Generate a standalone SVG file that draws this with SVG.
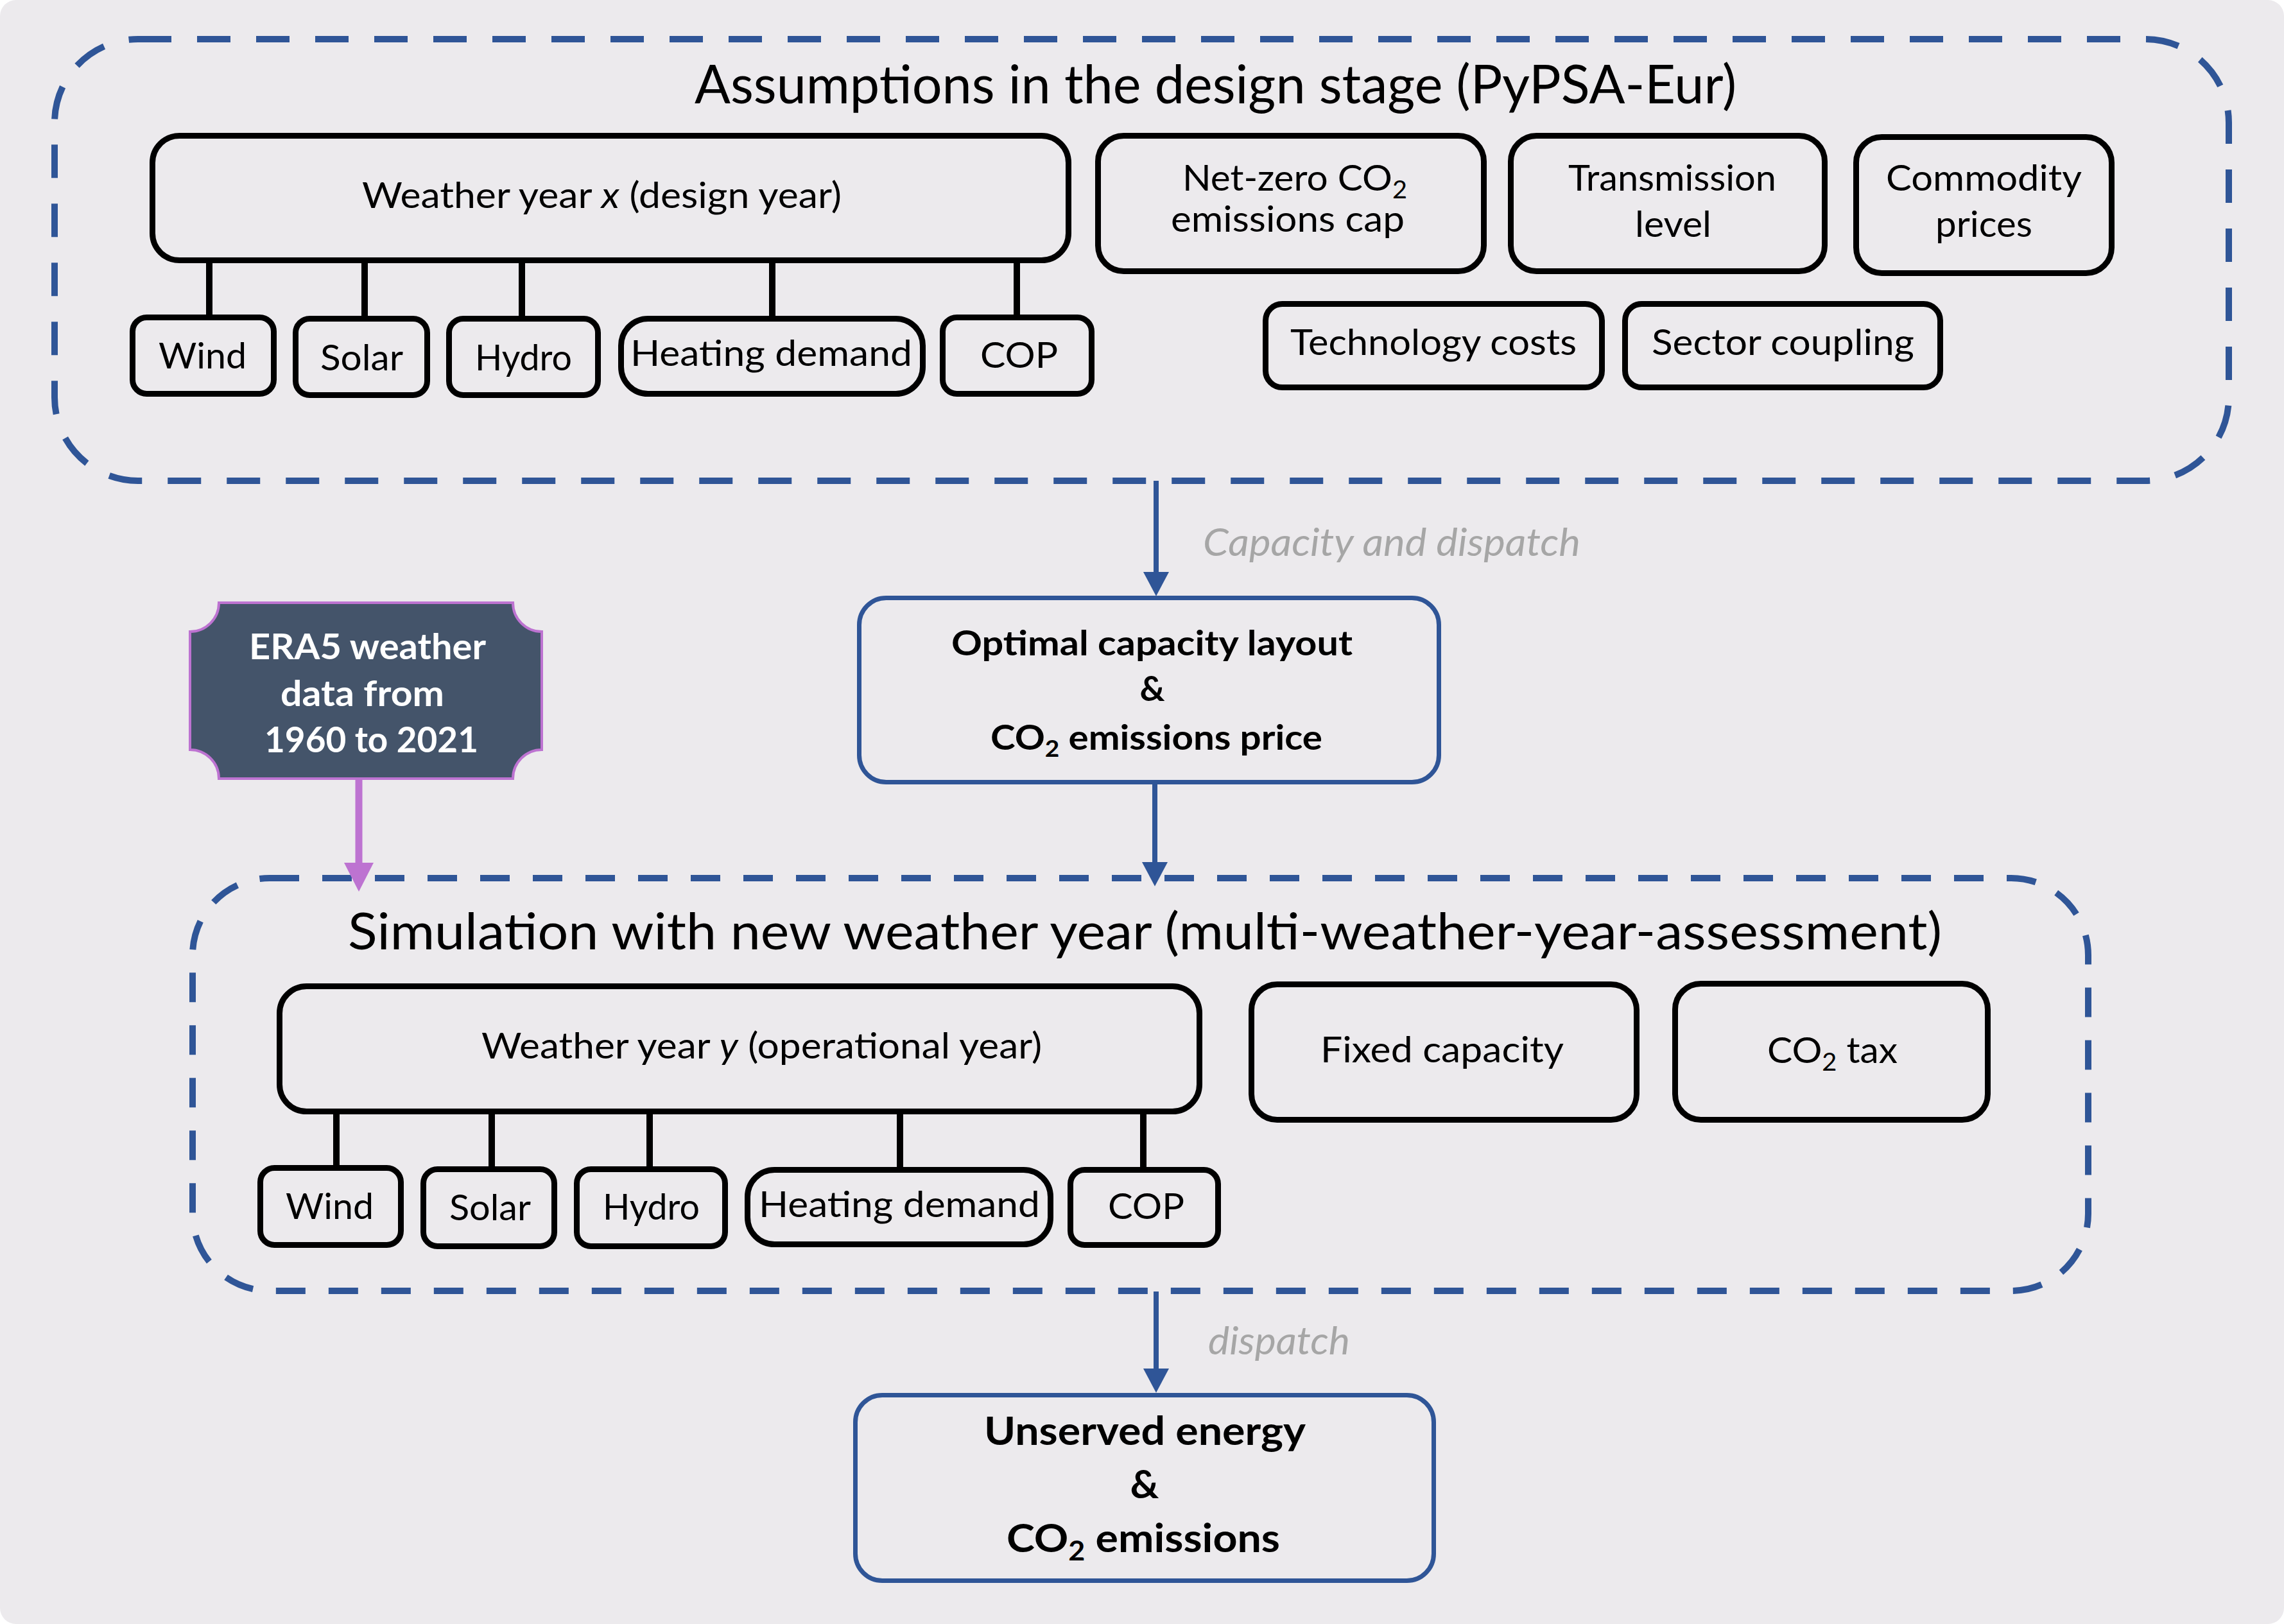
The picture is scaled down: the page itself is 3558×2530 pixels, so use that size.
<svg xmlns="http://www.w3.org/2000/svg" width="3558" height="2530" viewBox="0 0 3558 2530">
<defs>
<style>
.bg{fill:#ECEAED}
.node{fill:#ECEAED;stroke:#000;stroke-width:9}
.bnode{fill:#ECEAED;stroke:#2F5597;stroke-width:7}
.dash1{fill:none;stroke:#2F5597;stroke-width:10;stroke-dasharray:52 40}
.dash2{fill:none;stroke:#2F5597;stroke-width:10;stroke-dasharray:46 36}
.conn{stroke:#000;stroke-width:10;fill:none}
.barrow{stroke:#2F5597;stroke-width:8;fill:none}
.parrow{stroke:#BD73D1;stroke-width:11;fill:none}
text{font-family:"Lato","Liberation Sans",sans-serif;fill:#000}
.t{font-size:56px}
.title{font-size:84px}
.lbl{font-size:60px;font-style:italic;fill:#A6A6A6}
.b{font-weight:bold;font-size:54px}
.b2{font-weight:bold;font-size:62px}
.w{font-weight:bold;font-size:56px;fill:#FFFFFF}
</style>
<marker id="bhead" markerUnits="userSpaceOnUse" markerWidth="40" markerHeight="40" viewBox="0 0 34 36" refX="0" refY="18" orient="auto">
<path d="M0,0 L34,18 L0,36 Z" fill="#2F5597"/>
</marker>
<marker id="phead" markerUnits="userSpaceOnUse" markerWidth="46" markerHeight="46" viewBox="0 0 43 44" refX="0" refY="22" orient="auto">
<path d="M0,0 L43,22 L0,44 Z" fill="#BD73D1"/>
</marker>
</defs>
<rect width="3558" height="2530" fill="#FFFFFF"/>
<rect class="bg" width="3558" height="2530" rx="25"/>

<g id="design-stage">
<rect class="dash1" x="85" y="61" width="3387" height="688" rx="130"/>
<text class="title" x="1082" y="161" textLength="1623" lengthAdjust="spacingAndGlyphs">Assumptions in the design stage (PyPSA-Eur)</text>
</g>

<g id="simulation-stage">
<rect class="dash2" x="300" y="1368" width="2953" height="643" rx="120"/>
<text class="title" x="542" y="1479" font-size="80" style="font-size:80px" textLength="2483" lengthAdjust="spacingAndGlyphs">Simulation with new weather year (multi-weather-year-assessment)</text>
</g>

<g id="connectors">
<line class="conn" x1="326" y1="406" x2="326" y2="496"/>
<line class="conn" x1="568" y1="406" x2="568" y2="498"/>
<line class="conn" x1="813" y1="406" x2="813" y2="498"/>
<line class="conn" x1="1203" y1="406" x2="1203" y2="498"/>
<line class="conn" x1="1584" y1="406" x2="1584" y2="496"/>
<line class="conn" x1="524" y1="1732" x2="524" y2="1821"/>
<line class="conn" x1="766" y1="1732" x2="766" y2="1823"/>
<line class="conn" x1="1012" y1="1732" x2="1012" y2="1823"/>
<line class="conn" x1="1402" y1="1732" x2="1402" y2="1824"/>
<line class="conn" x1="1781" y1="1732" x2="1781" y2="1824"/>
<line class="barrow" x1="1801" y1="749" x2="1801" y2="891" marker-end="url(#bhead)"/>
<line class="barrow" x1="1799" y1="1222" x2="1799" y2="1343" marker-end="url(#bhead)"/>
<line class="barrow" x1="1801" y1="2012" x2="1801" y2="2132" marker-end="url(#bhead)"/>
<line class="parrow" x1="559" y1="1213" x2="559" y2="1344" marker-end="url(#phead)"/>
<text class="lbl" x="1874" y="866" textLength="588" lengthAdjust="spacingAndGlyphs">Capacity and dispatch</text>
<text class="lbl" x="1882" y="2110" textLength="221" lengthAdjust="spacingAndGlyphs">dispatch</text>
</g>

<g id="weather-x">
<rect class="node" x="237.5" y="211.5" width="1427" height="194" rx="42"/>
<text class="t" x="564" y="324" textLength="747" lengthAdjust="spacingAndGlyphs">Weather year <tspan font-style="italic">x</tspan> (design year)</text>
</g>
<g id="wind-x"><rect class="node" x="206.5" y="494.5" width="220" height="119" rx="22"/><text class="t" x="247" y="574" textLength="137" lengthAdjust="spacingAndGlyphs">Wind</text></g>
<g id="solar-x"><rect class="node" x="460.5" y="496.5" width="205" height="119" rx="22"/><text class="t" x="499" y="577" textLength="129" lengthAdjust="spacingAndGlyphs">Solar</text></g>
<g id="hydro-x"><rect class="node" x="699.5" y="496.5" width="232" height="119" rx="22"/><text class="t" x="740" y="577" textLength="151" lengthAdjust="spacingAndGlyphs">Hydro</text></g>
<g id="heating-x"><rect class="node" x="967.5" y="496.5" width="470" height="117" rx="42"/><text class="t" x="982" y="570" textLength="439" lengthAdjust="spacingAndGlyphs">Heating demand</text></g>
<g id="cop-x"><rect class="node" x="1468.5" y="494.5" width="232" height="119" rx="22"/><text class="t" x="1527" y="573" textLength="121" lengthAdjust="spacingAndGlyphs">COP</text></g>

<g id="netzero"><rect class="node" x="1710.5" y="211.5" width="601" height="211" rx="40"/>
<text class="t" x="1842" y="297" textLength="350" lengthAdjust="spacingAndGlyphs">Net-zero CO<tspan font-size="38" dy="12">2</tspan></text>
<text class="t" x="1824" y="361" textLength="364" lengthAdjust="spacingAndGlyphs">emissions cap</text></g>
<g id="transmission"><rect class="node" x="2353.5" y="211.5" width="489" height="211" rx="40"/>
<text class="t" x="2443" y="297" textLength="324" lengthAdjust="spacingAndGlyphs">Transmission</text>
<text class="t" x="2547" y="369" textLength="119" lengthAdjust="spacingAndGlyphs">level</text></g>
<g id="commodity"><rect class="node" x="2891.5" y="213.5" width="398" height="212" rx="40"/>
<text class="t" x="2938" y="297" textLength="305" lengthAdjust="spacingAndGlyphs">Commodity</text>
<text class="t" x="3015" y="369" textLength="151" lengthAdjust="spacingAndGlyphs">prices</text></g>
<g id="techcosts"><rect class="node" x="1971.5" y="473.5" width="524" height="130" rx="26"/>
<text class="t" x="2010" y="553" textLength="446" lengthAdjust="spacingAndGlyphs">Technology costs</text></g>
<g id="sector"><rect class="node" x="2531.5" y="473.5" width="491" height="130" rx="26"/>
<text class="t" x="2573" y="553" textLength="409" lengthAdjust="spacingAndGlyphs">Sector coupling</text></g>

<g id="optimal"><rect class="bnode" x="1338.5" y="931.5" width="903" height="287" rx="42"/>
<text class="b" x="1482" y="1021" textLength="625" lengthAdjust="spacingAndGlyphs">Optimal capacity layout</text>
<text class="b" x="1795" y="1092" text-anchor="middle">&amp;</text>
<text class="b" x="1543" y="1168" textLength="517" lengthAdjust="spacingAndGlyphs">CO<tspan font-size="36" dy="11">2</tspan><tspan dy="-11"> emissions price</tspan></text></g>

<g id="era5">
<path d="M341,939 H799 A45,45 0 0 0 844,984 V1168 A45,45 0 0 0 799,1213 H341 A45,45 0 0 0 296,1168 V984 A45,45 0 0 0 341,939 Z" fill="#44546A" stroke="#BD73D1" stroke-width="4"/>
<text class="w" x="388" y="1027" textLength="369" lengthAdjust="spacingAndGlyphs">ERA5 weather</text>
<text class="w" x="437" y="1100" textLength="255" lengthAdjust="spacingAndGlyphs">data from</text>
<text class="w" x="412" y="1172" textLength="333" lengthAdjust="spacingAndGlyphs">1960 to 2021</text>
</g>

<g id="weather-y">
<rect class="node" x="435.5" y="1536.5" width="1433" height="195" rx="42"/>
<text class="t" x="750" y="1649" textLength="873" lengthAdjust="spacingAndGlyphs">Weather year <tspan font-style="italic">y</tspan> (operational year)</text>
</g>
<g id="wind-y"><rect class="node" x="405.5" y="1819.5" width="219" height="120" rx="22"/><text class="t" x="445" y="1899" textLength="137" lengthAdjust="spacingAndGlyphs">Wind</text></g>
<g id="solar-y"><rect class="node" x="659.5" y="1821.5" width="204" height="120" rx="22"/><text class="t" x="700" y="1901" textLength="127" lengthAdjust="spacingAndGlyphs">Solar</text></g>
<g id="hydro-y"><rect class="node" x="898.5" y="1821.5" width="231" height="120" rx="22"/><text class="t" x="939" y="1900" textLength="151" lengthAdjust="spacingAndGlyphs">Hydro</text></g>
<g id="heating-y"><rect class="node" x="1164.5" y="1822.5" width="472" height="116" rx="42"/><text class="t" x="1182" y="1896" textLength="438" lengthAdjust="spacingAndGlyphs">Heating demand</text></g>
<g id="cop-y"><rect class="node" x="1667.5" y="1822.5" width="230" height="117" rx="22"/><text class="t" x="1726" y="1899" textLength="119" lengthAdjust="spacingAndGlyphs">COP</text></g>

<g id="fixed"><rect class="node" x="1949.5" y="1533.5" width="600" height="211" rx="40"/>
<text class="t" x="2057" y="1655" textLength="379" lengthAdjust="spacingAndGlyphs">Fixed capacity</text></g>
<g id="co2tax"><rect class="node" x="2609.5" y="1532.5" width="487" height="212" rx="40"/>
<text class="t" x="2753" y="1656" textLength="203" lengthAdjust="spacingAndGlyphs">CO<tspan font-size="38" dy="12">2</tspan><tspan dy="-12"> tax</tspan></text></g>

<g id="unserved"><rect class="bnode" x="1332.5" y="2173.5" width="901" height="289" rx="42"/>
<text class="b2" x="1533" y="2251" textLength="501" lengthAdjust="spacingAndGlyphs">Unserved energy</text>
<text class="b2" x="1783" y="2334" text-anchor="middle">&amp;</text>
<text class="b2" x="1568" y="2418" textLength="426" lengthAdjust="spacingAndGlyphs">CO<tspan font-size="42" dy="13">2</tspan><tspan dy="-13"> emissions</tspan></text></g>
</svg>
